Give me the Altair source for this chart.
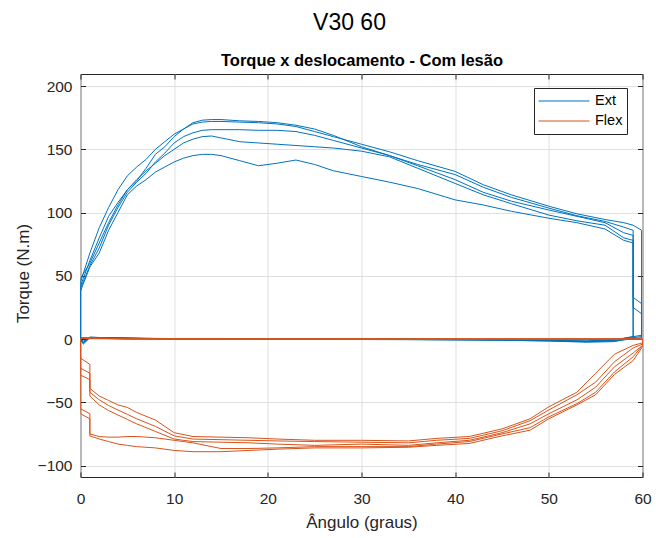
import altair as alt
import pandas as pd

# ---------------- data ----------------
# Ext (extension) loading phase: shared angle grid
ext_x = [0, 0, 1, 2, 3, 4, 5, 6, 7, 8, 9, 10, 11, 12, 13, 14, 15, 17, 19, 21, 23, 25, 27,
         30, 33, 36, 40, 43, 46, 50, 53, 56, 58, 59]
ext_1 = [0, 42, 62, 80, 97, 108, 118, 125, 135, 146, 152, 160, 166, 171, 173, 173.5, 173.5,
         172.5, 172, 171, 169, 166, 161, 152, 145, 138, 130, 120, 112, 103.5, 97.5, 93, 88.5, 86]
ext_2 = [0, 45, 68, 88, 104, 118, 129, 136, 142, 150, 156, 162, 166, 170, 171.5, 172, 172,
         171.5, 171, 170, 168, 164, 160, 154, 148, 141, 132.5, 122, 114, 105, 99, 94.5, 92, 90]
ext_3 = [0, 40, 58, 72, 90, 104, 116, 124, 131, 140, 147, 155, 160, 163, 165, 165.5, 165.5,
         165.5, 165, 165, 164, 161, 157, 151, 145, 137, 126, 116, 109, 102, 97, 92, 84, 82]
ext_4 = [0, 48, 60, 76, 92, 106, 118, 126, 133, 139, 145, 150, 155, 158, 160, 160.5, 159,
         156, 155, 154, 153, 152, 151, 148.5, 144, 135, 123, 114, 107, 98, 93.5, 90, 80, 78]
ext_5 = [0, 38, 57, 68, 86, 100, 114, 121, 126, 132, 136, 140, 143, 145, 146, 146, 145,
         141, 137, 139, 141.5, 138, 133, 128.5, 124, 119, 110, 106, 101, 95.5, 92, 87, 78, 76]

# Ext unloading + return near zero torque (per repetition)
ext_1_back_x = [59, 59.9, 59.9, 57, 54, 50, 45, 35, 20, 8, 3, 1, 0.3, 0]
ext_1_back_y = [33, 28, 2, -1, -2, -1.5, -0.8, -0.3, 0, 0.3, 1, 1.2, -2.5, 0]
ext_2_back_x = [59.9, 59.9, 57, 54, 50, 45, 35, 20, 8, 3, 1, 0.3, 0]
ext_2_back_y = [86, 1, -1.5, -2, -1, -0.5, 0, 0, 0.5, 1, 1.5, -3, 0]
ext_3_back_x = [59, 59.9, 59.9, 57, 54, 50, 45, 35, 20, 8, 3, 1, 0.3, 0]
ext_3_back_y = [25, 20, 3, -0.5, -1.5, -1, -0.5, 0, 0, 0.3, 0.8, 1, -4, 0]
ext_4_back_x = [59, 57, 54, 50, 45, 35, 20, 8, 3, 1, 0.3, 0]
ext_4_back_y = [1, -2, -2.5, -1.5, -1, -0.5, 0, 0.5, 1, 1.5, -3, 0]
ext_5_back_x = [59, 57, 54, 50, 45, 35, 20, 8, 3, 1, 0.3, 0]
ext_5_back_y = [2, -1, -1.5, -1, -0.5, 0, 0, 0.2, 0.8, 1, -1.5, 0]

# Flex (flexion) loading phase: shared angle grid
flex_x = [0, 0, 1, 1, 2, 3, 4, 5, 6, 8, 10, 12, 15, 18, 21, 25, 30, 35, 38, 41.5, 45, 48,
          50, 53, 55, 57, 59, 60, 60]
flex_1 = [0, -15, -20, -39, -45, -48.5, -52, -54, -58, -64, -74, -77, -77.5, -78, -79, -80,
          -80, -80.5, -78.5, -77, -71, -63, -53.5, -42, -27, -12, -5, -3, 0]
flex_2 = [0, -23, -27, -42, -48, -52.5, -56, -59.5, -63, -69, -76.5, -79, -79.5, -80, -80.5,
          -81, -81.5, -82, -80, -78.5, -72.5, -64.5, -56, -44, -34, -18, -7, -4, 0]
flex_3 = [0, -28.5, -32, -45, -52, -56.5, -60, -63.5, -67, -73, -79, -81, -81.5, -82, -83,
          -84, -83, -84, -82, -80, -74, -67, -59, -48, -38, -22, -11, -5, 0]
flex_4 = [0, -55, -59, -75, -77, -77.5, -77.5, -77, -77, -78, -80, -82, -86.5, -86.5, -86,
          -85, -85, -85, -83, -81, -75, -70, -61.5, -51, -42, -26, -14, -5, 0]
flex_5 = [0, -59, -63, -76.5, -79, -81, -83, -84, -85, -86, -88, -89, -89, -88, -87, -86,
          -86, -85.5, -84, -82.5, -76.5, -72, -63, -52, -44, -28, -17, -6, 0]

# Flex return near zero torque
flex_back_x = [55, 40, 20, 5, 1, 0]
flex_1_back = [0, 0, 0, 0.2, 0.8, 1]
flex_2_back = [0, 0, 0, 0.3, 0.6, 0.8]
flex_3_back = [0, 0, 0, 0.1, 0.5, 1.2]
flex_4_back = [0, 0, 0, 0.2, 0.7, 0.5]
flex_5_back = [0, 0, 0, 0.3, 0.9, 1]

x_ticks = [0, 10, 20, 30, 40, 50, 60]
y_ticks = [-100, -50, 0, 50, 100, 150, 200]
series = ["Ext", "Flex"]
colors = ["#0072BD", "#D95319"]

# ---------------- table ----------------
rows = []


def add(kind, cid, xs, ys):
    n = sum(1 for r in rows if r["curve"] == cid)
    for i, (a, b) in enumerate(zip(xs, ys)):
        rows.append({"x": a, "y": b, "curve": cid, "type": kind, "seq": n + i})


ext_load = [ext_1, ext_2, ext_3, ext_4, ext_5]
ext_back = [(ext_1_back_x, ext_1_back_y), (ext_2_back_x, ext_2_back_y),
            (ext_3_back_x, ext_3_back_y), (ext_4_back_x, ext_4_back_y),
            (ext_5_back_x, ext_5_back_y)]
for k, (ys, (bx, by)) in enumerate(zip(ext_load, ext_back)):
    add("Ext", f"e{k}", ext_x, ys)
    add("Ext", f"e{k}", bx, by)

flex_load = [flex_1, flex_2, flex_3, flex_4, flex_5]
flex_back = [flex_1_back, flex_2_back, flex_3_back, flex_4_back, flex_5_back]
for k, (ys, by) in enumerate(zip(flex_load, flex_back)):
    add("Flex", f"f{k}", flex_x, ys)
    add("Flex", f"f{k}", flex_back_x, by)

df = pd.DataFrame(rows)

# ---------------- chart ----------------
W, H = 562, 403
FONT = "Liberation Sans"
AX = "#262626"

x_scale = alt.Scale(domain=[0, 60], nice=False, zero=False)
y_scale = alt.Scale(domain=[-109, 209.5], nice=False, zero=False)
color_scale = alt.Scale(domain=series, range=colors)

main_x_axis = alt.Axis(values=x_ticks, grid=True, gridColor="#dfdfdf", ticks=False,
                       domain=False, labelPadding=14, labelFontSize=15.5, labelColor=AX,
                       labelFont=FONT, labelFlush=False, title="Ângulo (graus)",
                       titleFontSize=17, titleFontWeight="normal", titleColor=AX,
                       titleFont=FONT, titleY=50, titleBaseline="alphabetic")
main_y_axis = alt.Axis(values=y_ticks, grid=True, gridColor="#dfdfdf", ticks=False,
                       domain=False, labelPadding=8.5, labelFontSize=15.5, labelColor=AX,
                       labelFont=FONT, labelFlush=False, title="Torque (N.m)",
                       titleFontSize=17, titleFontWeight="normal", titleColor=AX,
                       titleFont=FONT, titleX=-57, titleY=199, titleBaseline="middle",
                       titleAngle=270)

legend = alt.Legend(title=None, orient="none", legendX=453.5, legendY=14,
                    symbolType="stroke", symbolSize=2601, symbolStrokeWidth=1,
                    clipHeight=18, rowPadding=2,
                    labelFontSize=14.5, labelColor="black", labelFont=FONT,
                    strokeColor=AX, fillColor="white", padding=4, labelOffset=5)

ext = alt.Chart(df).transform_filter(alt.datum.type == "Ext").mark_line(
    strokeWidth=1, clip=True).encode(
    x=alt.X("x:Q", scale=x_scale, axis=main_x_axis),
    y=alt.Y("y:Q", scale=y_scale, axis=main_y_axis),
    color=alt.Color("type:N", scale=color_scale, legend=legend),
    detail="curve:N",
    order="seq:Q",
)

flex = alt.Chart(df).transform_filter(alt.datum.type == "Flex").mark_line(
    strokeWidth=1, clip=True).encode(
    x=alt.X("x:Q", scale=x_scale, axis=None),
    y=alt.Y("y:Q", scale=y_scale, axis=None),
    color=alt.Color("type:N", scale=color_scale, legend=legend),
    detail="curve:N",
    order="seq:Q",
)


def tick_axis(orient, offset, vals):
    return alt.Axis(orient=orient, offset=offset, values=vals, labels=False, grid=False,
                    domain=False, ticks=True, tickSize=5, tickColor=AX, tickWidth=1,
                    title=None)


ticks_a = alt.Chart(df).mark_point(opacity=0).encode(
    x=alt.X("x:Q", scale=x_scale, axis=tick_axis("top", -H, x_ticks)),
    y=alt.Y("y:Q", scale=y_scale, axis=tick_axis("right", -W, y_ticks)),
)
ticks_b = alt.Chart(df).mark_point(opacity=0).encode(
    x=alt.X("x:Q", scale=x_scale, axis=tick_axis("bottom", -H, x_ticks)),
    y=alt.Y("y:Q", scale=y_scale, axis=tick_axis("left", -W, y_ticks)),
)
subtitle = alt.Chart(df).mark_point(opacity=0).encode(
    x=alt.X("x:Q", scale=x_scale,
            axis=alt.Axis(orient="top", labels=False, ticks=False, domain=False, grid=False,
                          title="Torque x deslocamento - Com lesão", titleFontSize=16.5,
                          titleFontWeight="bold", titleColor="black", titleFont=FONT,
                          titleY=-9, titleBaseline="alphabetic")),
    y=alt.value(0),
)

chart = alt.layer(ext, flex, ticks_a, ticks_b, subtitle).resolve_axis(
    x="independent", y="independent"
).properties(
    width=W, height=H,
    title=alt.TitleParams("V30 60", fontSize=23, fontWeight="normal", color="black",
                          font=FONT, anchor="middle", frame="group", dx=-12,
                          baseline="alphabetic", offset=-1),
    padding={"left": 80.5, "top": 74, "right": 13.5, "bottom": 61},
    autosize=alt.AutoSizeParams(type="none"),
).configure(font=FONT).configure_view(stroke=AX, strokeWidth=1)

chart.save("out.html", embed_options={"renderer": "svg", "actions": False})
